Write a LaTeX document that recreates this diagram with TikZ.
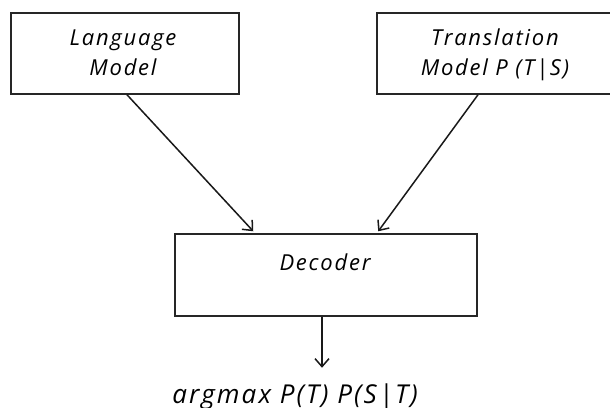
\documentclass[tikz,border=0pt]{standalone}
\usepackage{fontspec}
\setmainfont{Open Sans}[LetterSpace=8]
\usetikzlibrary{arrows.meta,calc}
\begin{document}
\begin{tikzpicture}[x=1pt,y=-1pt,
  block/.style={draw=black!85,line width=1.5pt,fill=white,inner sep=0pt},
  lbl/.style={anchor=base,inner sep=0pt,font=\fontsize{22}{26}\selectfont\itshape},
  flow/.style={draw=black!90,line width=1.5pt,-{Straight Barb[length=8pt,width=14pt,line width=1.5pt]}}]
\clip (0,0) rectangle (610,407);
\fill[white] (0,0) rectangle (610,407);

% boxes
\node[block,minimum width=228pt,minimum height=81pt] (lm) at (125,53.5) {};
\node[block,minimum width=236pt,minimum height=81pt] (tm) at (495,53.5) {};
\node[block,minimum width=302pt,minimum height=82pt] (dec) at (326,275) {};

% box texts
\node[lbl] (lm1) at (123,45) {Language};
\node[lbl] (lm2) at (123,75) {Model};
\node[lbl] (tm1) at (495,45) {Translation};
\node[lbl] (tm2) at (495,75) {Model P (T|S)};
\node[lbl] (dect) at (325,270) {Decoder};
\node[lbl,font=\fontsize{26}{30}\selectfont\itshape] (res) at (295,403) {argmax P(T) P(S|T)};

% connectors
\coordinate (a1) at ($(lm.south)+(2,0)$);
\coordinate (b1) at ($(dec.north west)+(79,-2)$);
\coordinate (a2) at ($(tm.south)+(-17,0)$);
\coordinate (b2) at ($(dec.north west)+(204,-2)$);
\coordinate (c1) at ($(dec.south)+(-4,0)$);
\coordinate (c2) at ($(c1)+(0,51)$);
\draw[flow] (a1) -- (b1);
\draw[flow] (a2) -- (b2);
\draw[flow] (c1) -- (c2);
\end{tikzpicture}
\end{document}
